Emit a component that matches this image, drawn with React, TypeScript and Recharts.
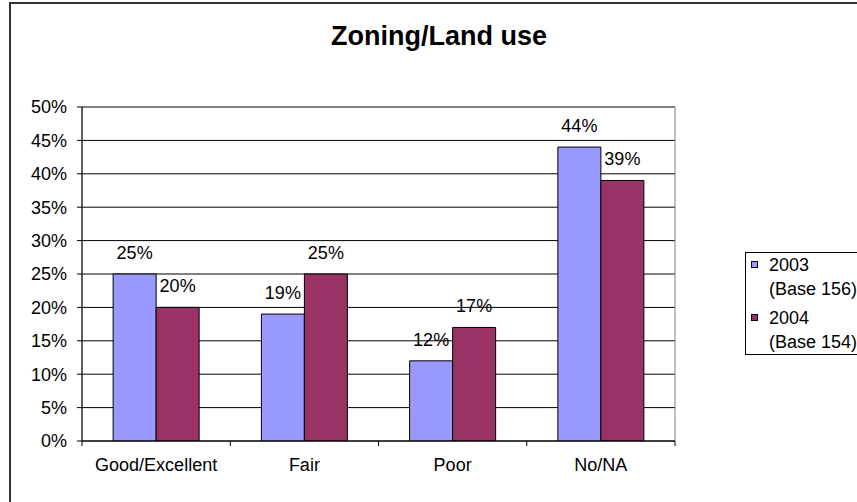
import React from "react";
import {
  BarChart,
  Bar,
  XAxis,
  YAxis,
  CartesianGrid,
  Legend,
  LabelList,
  ReferenceArea,
} from "recharts";

const categories = ["Good/Excellent", "Fair", "Poor", "No/NA"];
const values2003 = [0.25, 0.19, 0.12, 0.44];
const values2004 = [0.2, 0.25, 0.17, 0.39];
const seriesNames = ["2003 (Base 156)", "2004 (Base 154)"];
const seriesColors = ["#9999FF", "#993366"];
const yTicks = [0, 0.05, 0.1, 0.15, 0.2, 0.25, 0.3, 0.35, 0.4, 0.45, 0.5];
const titleText = "Zoning/Land use";

const data = categories.map((c, i) => ({
  category: c,
  s2003: values2003[i],
  s2004: values2004[i],
}));

const FONT = "'Liberation Sans', Arial, sans-serif";
const pct = (v: any) => `${Math.round(Number(v) * 100)}%`;

const X_TICK_SIZE = 5;
const X_TICK_MARGIN = 12;

const CategoryTick = (props: any) => {
  const { x, y, payload, index, visibleTicksCount } = props;
  const half = payload && typeof payload.offset === "number" ? payload.offset : null;
  const axisY = y - X_TICK_MARGIN - X_TICK_SIZE;
  return (
    <g>
      {half !== null && (
        <line
          x1={x - half}
          x2={x - half}
          y1={axisY}
          y2={axisY + X_TICK_SIZE}
          stroke="#000"
          strokeWidth={1}
        />
      )}
      {half !== null && index === visibleTicksCount - 1 && (
        <line
          x1={x + half}
          x2={x + half}
          y1={axisY}
          y2={axisY + X_TICK_SIZE}
          stroke="#000"
          strokeWidth={1}
        />
      )}
      <text
        x={x}
        y={y}
        dy="0.71em"
        textAnchor="middle"
        fill="#000"
        fontSize={18}
        fontFamily={FONT}
      >
        {payload.value}
      </text>
    </g>
  );
};

const LegendContent = (props: any) => {
  const payload = props.payload || [];
  return (
    <div
      style={{
        border: "1px solid #000",
        background: "#fff",
        width: 140,
        boxSizing: "border-box",
        fontFamily: FONT,
        fontSize: 18,
        color: "#000",
        position: "relative",
      }}
    >
      {payload.map((entry: any, i: number) => {
        const name = String(entry.value);
        const sp = name.indexOf(" ");
        const l1 = sp > 0 ? name.slice(0, sp) : name;
        const l2 = sp > 0 ? name.slice(sp + 1) : "";
        return (
          <div
            key={i}
            style={{
              position: "relative",
              paddingLeft: 23,
              marginTop: i === 0 ? 0 : 5,
              lineHeight: "24px",
              whiteSpace: "nowrap",
            }}
          >
            <span
              style={{
                position: "absolute",
                left: 5,
                top: 8,
                width: 7,
                height: 7,
                background: entry.color,
                border: "1px solid #000",
                boxSizing: "border-box",
              }}
            />
            <div>{l1}</div>
            <div>{l2}</div>
          </div>
        );
      })}
    </div>
  );
};

export default function App() {
  return (
    <div
      style={{
        position: "absolute",
        left: 0,
        top: 0,
        width: 857,
        height: 502,
        overflow: "hidden",
        background: "#fff",
        fontFamily: FONT,
      }}
    >
      <div
        style={{
          position: "absolute",
          left: 9,
          top: 2,
          width: 920,
          height: 620,
          border: "2px solid #333",
        }}
      />
      <div
        style={{
          position: "absolute",
          left: 0,
          top: 23,
          width: 878,
          textAlign: "center",
          fontSize: 27,
          fontWeight: "bold",
          lineHeight: "27px",
          color: "#000",
          fontFamily: FONT,
        }}
      >
        {titleText}
      </div>
      <BarChart
        width={857}
        height={502}
        data={data}
        margin={{ top: 107, right: 182, bottom: 0, left: 0 }}
        barCategoryGap="21%"
        barGap={0}
        style={{ fontFamily: FONT }}
      >
        <CartesianGrid vertical={false} stroke="#000" strokeWidth={1} />
        <ReferenceArea
          x1={categories[0]}
          x2={categories[categories.length - 1]}
          y1={0}
          y2={0.5}
          fill="none"
          fillOpacity={0}
          stroke="#808080"
          strokeWidth={1}
          ifOverflow="visible"
        />
        <XAxis
          dataKey="category"
          height={61}
          axisLine={{ stroke: "#000" }}
          tickLine={false}
          tickSize={X_TICK_SIZE}
          tickMargin={X_TICK_MARGIN}
          tick={<CategoryTick />}
          interval={0}
        />
        <YAxis
          width={82}
          domain={[0, 0.5]}
          ticks={yTicks}
          tickFormatter={pct}
          axisLine={{ stroke: "#000" }}
          tickLine={{ stroke: "#000" }}
          tickSize={5}
          tickMargin={10}
          tick={{ fill: "#000", fontSize: 18, fontFamily: FONT }}
          allowDataOverflow
        />
        <Legend
          layout="vertical"
          align="center"
          verticalAlign="middle"
          wrapperStyle={{ left: 745, top: 252, width: 140, height: "auto" }}
          content={<LegendContent />}
        />
        <Bar
          dataKey="s2003"
          name={seriesNames[0]}
          fill={seriesColors[0]}
          stroke="#000"
          strokeWidth={1}
          isAnimationActive={false}
        >
          <LabelList
            dataKey="s2003"
            position="top"
            offset={15}
            formatter={pct}
            fill="#000"
            fontSize={18}
            fontFamily={FONT}
          />
        </Bar>
        <Bar
          dataKey="s2004"
          name={seriesNames[1]}
          fill={seriesColors[1]}
          stroke="#000"
          strokeWidth={1}
          isAnimationActive={false}
        >
          <LabelList
            dataKey="s2004"
            position="top"
            offset={15}
            formatter={pct}
            fill="#000"
            fontSize={18}
            fontFamily={FONT}
          />
        </Bar>
      </BarChart>
    </div>
  );
}
